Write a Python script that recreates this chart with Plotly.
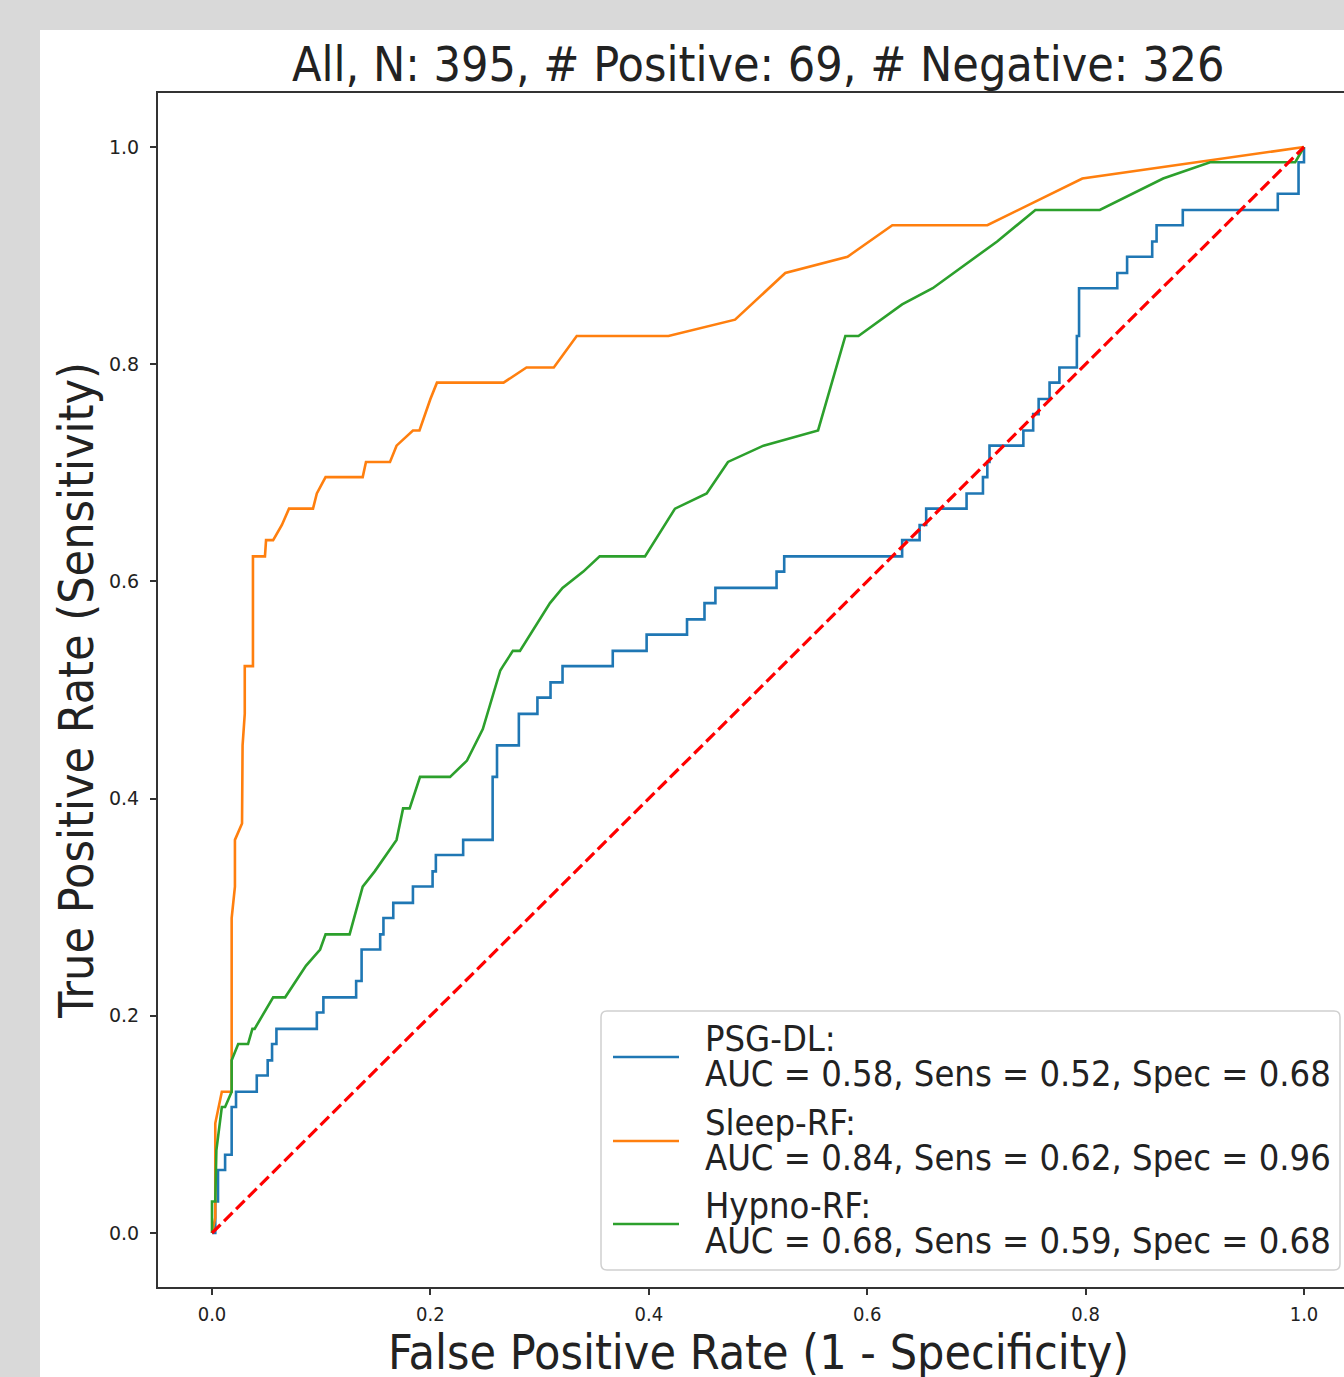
import plotly.graph_objects as go

# ---------------- data ----------------
psg_fpr = [0, 0.003, 0.003, 0.0055, 0.0055, 0.012, 0.012, 0.018, 0.018, 0.022, 0.022, 0.041, 0.041,
           0.051, 0.051, 0.055, 0.055, 0.059, 0.059, 0.096, 0.096, 0.102, 0.102, 0.132, 0.132, 0.137,
           0.137, 0.154, 0.154, 0.157, 0.157, 0.166, 0.166, 0.184, 0.184, 0.202, 0.202, 0.205, 0.205,
           0.230, 0.230, 0.257, 0.257, 0.261, 0.261, 0.281, 0.281, 0.298, 0.298, 0.310, 0.310, 0.321,
           0.321, 0.367, 0.367, 0.398, 0.398, 0.435, 0.435, 0.451, 0.451, 0.461, 0.461, 0.517, 0.517,
           0.524, 0.524, 0.632, 0.632, 0.648, 0.648, 0.654, 0.654, 0.691, 0.691, 0.706, 0.706, 0.710,
           0.710, 0.712, 0.712, 0.743, 0.743, 0.752, 0.752, 0.757, 0.757, 0.767, 0.767, 0.776, 0.776,
           0.792, 0.792, 0.794, 0.794, 0.829, 0.829, 0.838, 0.838, 0.861, 0.861, 0.865, 0.865, 0.889,
           0.889, 0.976, 0.976, 0.995, 0.995, 1.0, 1.0]
psg_tpr = [0, 0, 0.029, 0.029, 0.058, 0.058, 0.072, 0.072, 0.116, 0.116, 0.130, 0.130, 0.145,
           0.145, 0.159, 0.159, 0.174, 0.174, 0.188, 0.188, 0.203, 0.203, 0.217, 0.217, 0.232, 0.232,
           0.261, 0.261, 0.275, 0.275, 0.290, 0.290, 0.304, 0.304, 0.319, 0.319, 0.333, 0.333, 0.348,
           0.348, 0.362, 0.362, 0.420, 0.420, 0.449, 0.449, 0.478, 0.478, 0.493, 0.493, 0.507, 0.507,
           0.522, 0.522, 0.536, 0.536, 0.551, 0.551, 0.565, 0.565, 0.580, 0.580, 0.594, 0.594, 0.609,
           0.609, 0.623, 0.623, 0.638, 0.638, 0.652, 0.652, 0.667, 0.667, 0.681, 0.681, 0.696, 0.696,
           0.710, 0.710, 0.725, 0.725, 0.739, 0.739, 0.754, 0.754, 0.768, 0.768, 0.783, 0.783, 0.797,
           0.797, 0.826, 0.826, 0.870, 0.870, 0.884, 0.884, 0.899, 0.899, 0.913, 0.913, 0.928, 0.928,
           0.942, 0.942, 0.957, 0.957, 0.986, 0.986, 1.0]

sleep_fpr = [0, 0.003, 0.003, 0.009, 0.018, 0.018, 0.021, 0.021, 0.0275, 0.028, 0.030, 0.030, 0.0375,
             0.0375, 0.0485, 0.0495, 0.056, 0.064, 0.0705, 0.0925, 0.096, 0.104, 0.138, 0.141, 0.163,
             0.169, 0.184, 0.190, 0.200, 0.206, 0.267, 0.288, 0.313, 0.334, 0.418, 0.479, 0.525,
             0.582, 0.623, 0.710, 0.797, 1.0]
sleep_tpr = [0, 0.014, 0.101, 0.130, 0.130, 0.290, 0.319, 0.362, 0.377, 0.449, 0.478, 0.522, 0.522,
             0.623, 0.623, 0.638, 0.638, 0.652, 0.667, 0.667, 0.681, 0.696, 0.696, 0.710, 0.710,
             0.725, 0.739, 0.739, 0.768, 0.783, 0.783, 0.797, 0.797, 0.826, 0.826, 0.841, 0.884,
             0.899, 0.928, 0.928, 0.971, 1.0]

hypno_fpr = [0, 0, 0.003, 0.004, 0.009, 0.012, 0.018, 0.018, 0.024, 0.033, 0.037, 0.039, 0.056, 0.067,
             0.086, 0.099, 0.104, 0.126, 0.138, 0.149, 0.169, 0.175, 0.181, 0.1905, 0.218, 0.2335,
             0.248, 0.264, 0.2665, 0.2755, 0.282, 0.3095, 0.321, 0.340, 0.355, 0.3965, 0.424, 0.453,
             0.4725, 0.505, 0.555, 0.580, 0.592, 0.632, 0.660, 0.719, 0.754, 0.813, 0.871, 0.914,
             0.992, 1.0]
hypno_tpr = [0, 0.029, 0.029, 0.076, 0.116, 0.116, 0.130, 0.159, 0.174, 0.174, 0.188, 0.188, 0.217,
             0.217, 0.246, 0.261, 0.275, 0.275, 0.319, 0.333, 0.362, 0.391, 0.391, 0.420, 0.420,
             0.435, 0.464, 0.518, 0.522, 0.536, 0.536, 0.580, 0.594, 0.609, 0.623, 0.623, 0.667,
             0.681, 0.710, 0.725, 0.739, 0.826, 0.826, 0.855, 0.870, 0.913, 0.942, 0.942, 0.971,
             0.986, 0.986, 1.0]

chance = [0, 1]

series_names = ["PSG-DL:", "Sleep-RF:", "Hypno-RF:"]
series_stats = ["AUC = 0.58, Sens = 0.52, Spec = 0.68",
                "AUC = 0.84, Sens = 0.62, Spec = 0.96",
                "AUC = 0.68, Sens = 0.59, Spec = 0.68"]
colors = ["#1f77b4", "#ff7f0e", "#2ca02c"]

title_text = "All, N: 395, # Positive: 69, # Negative: 326"
xlabel = "False Positive Rate (1 - Specificity)"
ylabel = "True Positive Rate (Sensitivity)"
tick_vals = [0, 0.2, 0.4, 0.6, 0.8, 1.0]
tick_text = ["0.0", "0.2", "0.4", "0.6", "0.8", "1.0"]

# ---------------- layout geometry (pixels) ----------------
W, H = 1344, 1377
L, R, T, B = 158, 1344, 93, 1287
PW, PH = R - L, B - T


def px_x(px):
    return (px - L) / PW


def px_y(py):
    return (B - py) / PH


COND = "DejaVu Sans Condensed, DejaVu Sans, sans-serif"
INK = "#222222"

fig = go.Figure()
curves = [(psg_fpr, psg_tpr), (sleep_fpr, sleep_tpr), (hypno_fpr, hypno_tpr)]
for (xs, ys), name, col in zip(curves, series_names, colors):
    fig.add_trace(go.Scatter(x=xs, y=ys, mode="lines", name=name,
                             line=dict(color=col, width=2.6), showlegend=False))
fig.add_trace(go.Scatter(x=chance, y=chance, mode="lines", showlegend=False,
                         line=dict(color="#ff0000", width=3.2, dash="12px,5px")))

shapes = []
# white figure panel over the grey page
shapes.append(dict(type="rect", xref="paper", yref="paper", layer="below",
                   x0=px_x(40), x1=px_x(1360), y0=px_y(1390), y1=px_y(30),
                   fillcolor="white", line=dict(width=0)))

# legend box (rounded)
bx0, bx1, by0, by1 = px_x(601), px_x(1340), px_y(1270), px_y(1011)
rx, ry = 6 / PW, 6 / PH
path = (f"M {bx0+rx},{by0} L {bx1-rx},{by0} Q {bx1},{by0} {bx1},{by0+ry} "
        f"L {bx1},{by1-ry} Q {bx1},{by1} {bx1-rx},{by1} L {bx0+rx},{by1} "
        f"Q {bx0},{by1} {bx0},{by1-ry} L {bx0},{by0+ry} Q {bx0},{by0} {bx0+rx},{by0} Z")
shapes.append(dict(type="path", path=path, xref="paper", yref="paper", layer="above",
                   fillcolor="rgba(255,255,255,0.8)", line=dict(color="#d0d0d0", width=1.5)))

annotations = []
line_y = [1057, 1141, 1224]
for ly, name, stat, col in zip(line_y, series_names, series_stats, colors):
    shapes.append(dict(type="line", xref="paper", yref="paper", layer="above",
                       x0=px_x(613), x1=px_x(679), y0=px_y(ly), y1=px_y(ly),
                       line=dict(color=col, width=2.6)))
    annotations.append(dict(xref="paper", yref="paper", x=px_x(703), y=px_y(ly - 19),
                            xanchor="left", yanchor="middle", showarrow=False, text=name,
                            font=dict(family=COND, size=36, color=INK)))
    annotations.append(dict(xref="paper", yref="paper", x=px_x(703), y=px_y(ly + 16),
                            xanchor="left", yanchor="middle", showarrow=False, text=stat,
                            font=dict(family=COND, size=36, color=INK)))

# title and axis labels
annotations.append(dict(xref="paper", yref="paper", x=px_x(758), y=px_y(64), xanchor="center",
                        yanchor="middle", showarrow=False, text=title_text,
                        font=dict(family=COND, size=48, color=INK)))
annotations.append(dict(xref="paper", yref="paper", x=px_x(758), y=px_y(1352), xanchor="center",
                        yanchor="middle", showarrow=False, text=xlabel,
                        font=dict(family=COND, size=48, color=INK)))
annotations.append(dict(xref="paper", yref="paper", x=px_x(76), y=px_y(691), xanchor="center",
                        yanchor="middle", showarrow=False, text=ylabel, textangle=-90,
                        font=dict(family=COND, size=48, color=INK)))

fig.update_layout(
    width=W, height=H,
    margin=dict(l=L, r=W - R, t=T, b=H - B, pad=0),
    paper_bgcolor="#d9d9d9", plot_bgcolor="white",
    shapes=shapes, annotations=annotations, showlegend=False,
)
fig.update_xaxes(range=[(L - 212) / 1092, (R - 212) / 1092], tickvals=tick_vals, ticktext=tick_text,
                 showgrid=False, zeroline=False, showline=True, mirror=True, linecolor="#333333",
                 linewidth=2, ticks="outside", ticklen=6, tickwidth=1.5, tickcolor="#333333",
                 tickfont=dict(family=COND, size=20, color=INK), ticklabelstandoff=2)
fig.update_yaxes(range=[(1233 - B) / 1086, (1233 - T) / 1086], tickvals=tick_vals, ticktext=tick_text,
                 showgrid=False, zeroline=False, showline=True, mirror=False, linecolor="#333333",
                 linewidth=2, ticks="outside", ticklen=6, tickwidth=1.5, tickcolor="#333333",
                 tickfont=dict(family="DejaVu Sans", size=19, color=INK), ticklabelstandoff=7)

fig.write_html("out.html", config={"displayModeBar": False},
               post_script="document.body.style.margin='0px';document.body.style.padding='0px';"
                           "document.documentElement.style.overflow='hidden';")
